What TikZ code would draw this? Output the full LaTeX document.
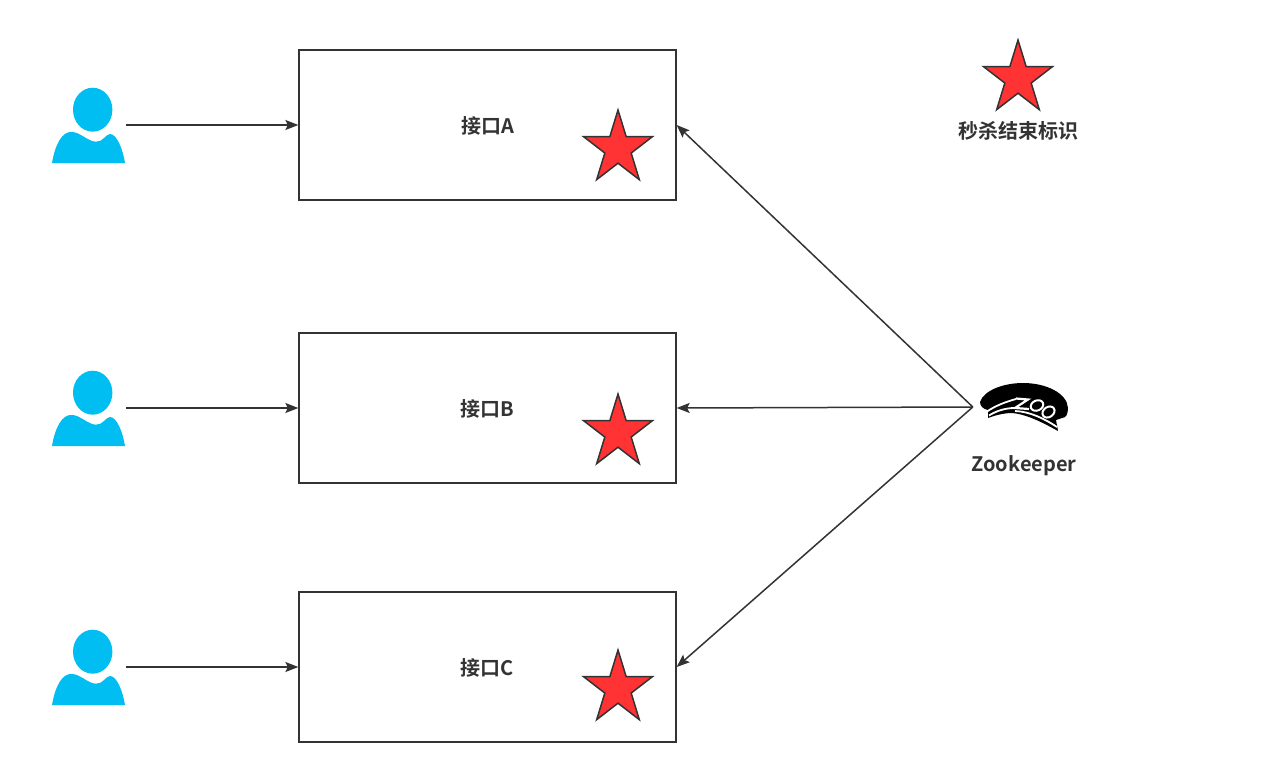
\documentclass[tikz,border=0pt]{standalone}
\usepackage{fontspec}
\usetikzlibrary{arrows.meta,shapes.geometric}
\setmainfont{Noto Sans CJK SC}[BoldFont=* Bold]
\definecolor{ink}{HTML}{333333}
\definecolor{userblue}{HTML}{00BEF2}
\definecolor{starred}{HTML}{FF3333}

\tikzset{
  person/.pic = {
    \fill[userblue] (3.7,-15.3) ellipse [x radius=19.7pt, y radius=22pt];
    \fill[userblue] (-37,38) .. controls (-34,20) and (-27,6) .. (-17,7) .. controls (-9,7) and (-1,16.5) .. (7,16.7) .. controls (14,17) and (17,9) .. (21,9) .. controls (28,9) and (34,25) .. (36,38) -- cycle;
  },
  zoocap/.pic = {
    \begin{scope}[shift={(-1024,-407)}]
    % cap and brim
    \fill[black] (980,402) .. controls (984,390) and (1004,383) .. (1023,383) .. controls (1046,383) and (1067,393) .. (1068,408) .. controls (1068,414) and (1066,418) .. (1062,418) -- (1056,420) -- (1058,431) .. controls (1040,421) and (1025,414) .. (1012,413) .. controls (1003,413) and (993,416) .. (988,418) -- (988,410) .. controls (983,409) and (980,406) .. (980,402) -- cycle;
    % white band
    \draw[white, line width=1.8pt] (987,411.5) .. controls (995,406) and (1005,402) .. (1016,399);
    \draw[white, line width=1.8pt] (989,415.5) .. controls (996,411) and (1005,408) .. (1015,408);
    \draw[white, line width=1.8pt] (1015,411) .. controls (1030,411.5) and (1045,419) .. (1057,427);
    \draw[white, line width=2.2pt, line join=miter] (1016,398.5) -- (1028,399.5) -- (1015,408) -- (1029,409);
    \draw[white, line width=2pt, rotate around={25:(1037,405.5)}] (1037,405.5) ellipse [x radius=6.5pt, y radius=5pt];
    \draw[white, line width=2pt, rotate around={35:(1048.5,412)}] (1048.5,412) ellipse [x radius=6.5pt, y radius=5pt];
    \end{scope}
  }
}

\begin{document}
\begin{tikzpicture}[x=1pt, y=-1pt,
  box/.style = {draw=ink, line width=1.3pt, minimum width=377pt, minimum height=150pt, inner sep=0pt, text=ink, text height=18pt, text depth=1pt, font=\fontsize{20}{22}\selectfont\bfseries},
  redstar/.style = {star, star points=5, star point ratio=2.618, draw=ink, line width=1.5pt, fill=starred, minimum size=74pt, inner sep=0pt, xscale=.98, yscale=1.04, transform shape},
  caption/.style = {text=ink, font=\fontsize{20}{22}\selectfont\bfseries, inner sep=0pt},
  flow/.style = {draw=ink, line width=1.5pt, -{Stealth[length=13pt, width=10pt, inset=2.5pt]}},
  user/.style = {minimum width=74pt, minimum height=76pt, inner sep=0pt},
  hat/.style = {minimum width=102pt, minimum height=54pt, inner sep=0pt}]
\useasboundingbox (0,0) rectangle (1279,769);

\node[box] (boxa) at (487.5,125) {接口A};
\node[box] (boxb) at (487.5,408) {接口B};
\node[box] (boxc) at (487.5,667) {接口C};

\node[redstar] (stara) at (618,148.5) {};
\node[redstar] (starb) at (618,432.5) {};
\node[redstar] (starc) at (618,688.5) {};
\node[redstar] (starkey) at (1018,78.5) {};
\node[caption] (keytext) at (1018,131) {秒杀结束标识};

\node[user] (usera) at (89,125) {};
\node[user] (userb) at (89,408) {};
\node[user] (userc) at (89,667) {};
\pic at (usera) {person};
\pic at (userb) {person};
\pic at (userc) {person};

\node[hat] (zk) at (1024,407) {};
\pic at (zk) {zoocap};
\node[caption] (zktext) at (1024,466) {Zookeeper};

\draw[flow] (usera) -- (boxa);
\draw[flow] (userb) -- (boxb);
\draw[flow] (userc) -- (boxc);
\draw[flow] (zk.west) -- (boxa.east);
\draw[flow] (zk.west) -- (boxb.east);
\draw[flow] (zk.west) -- (boxc.east);

\end{tikzpicture}
\end{document}
